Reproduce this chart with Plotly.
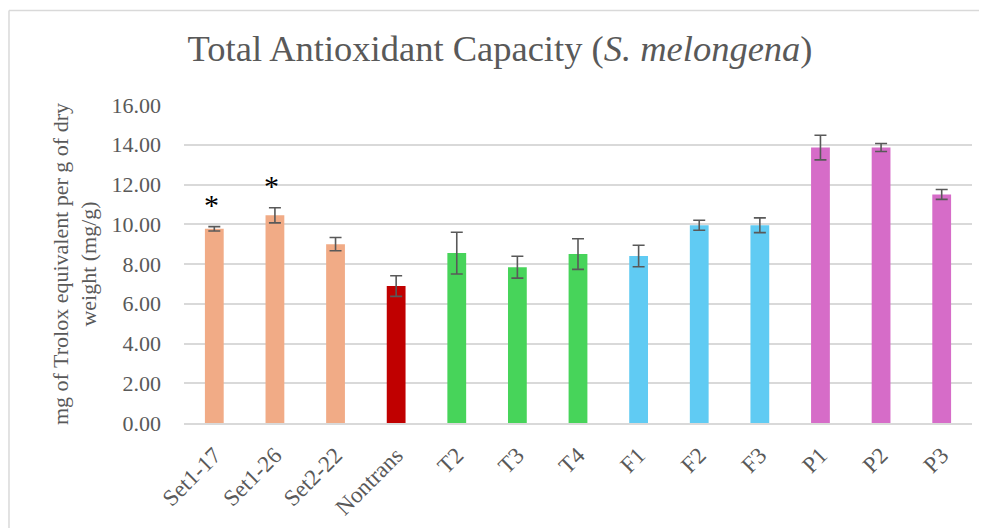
import plotly.graph_objects as go

categories = ["Set1-17", "Set1-26", "Set2-22", "Nontrans", "T2", "T3", "T4",
              "F1", "F2", "F3", "P1", "P2", "P3"]
values = [9.77, 10.45, 9.00, 6.89, 8.55, 7.84, 8.50, 8.40, 9.95, 9.95, 13.86, 13.86, 11.50]
errors = [0.11, 0.38, 0.33, 0.52, 1.05, 0.55, 0.77, 0.54, 0.25, 0.37, 0.62, 0.20, 0.25]
bar_colors = ["#F1AB86", "#F1AB86", "#F1AB86", "#C00000", "#47D45A", "#47D45A", "#47D45A",
              "#60CBF3", "#60CBF3", "#60CBF3", "#D66CC8", "#D66CC8", "#D66CC8"]
significant = ["Set1-17", "Set1-26"]
y_ticks = [0, 2, 4, 6, 8, 10, 12, 14, 16]

FONT = "Liberation Serif"
GRAY = "#595959"

fig = go.Figure()
fig.add_trace(go.Bar(
    x=categories, y=values,
    marker=dict(color=bar_colors, line=dict(width=0)),
    width=0.31,
    error_y=dict(type="data", array=errors, visible=True,
                 color=GRAY, thickness=1.6, width=6),
    showlegend=False,
))

for cat in significant:
    i = categories.index(cat)
    fig.add_annotation(x=cat, y=values[i] + errors[i], text="*",
                       showarrow=False, yanchor="bottom", xshift=-3, yshift=4,
                       font=dict(family=FONT, size=30, color="#000000"))

# chart-area border (top and left edges visible in the window)
fig.add_shape(type="line", xref="paper", yref="paper",
              x0=-0.2221, x1=1.3, y0=1.297, y1=1.297,
              line=dict(color="#d9d9d9", width=1.5), layer="below")
fig.add_shape(type="line", xref="paper", yref="paper",
              x0=-0.2221, x1=-0.2221, y0=-0.8, y1=1.297,
              line=dict(color="#d9d9d9", width=1.5), layer="below")

fig.update_layout(
    width=979, height=520,
    margin=dict(l=176, r=15, t=97, b=105, autoexpand=False),
    paper_bgcolor="white", plot_bgcolor="white",
    font=dict(family=FONT, color=GRAY, size=22),
    title=dict(text="Total Antioxidant Capacity (<i>S. melongena</i>)",
               xref="container", x=0.5026, xanchor="center",
               yref="container", y=0.923, yanchor="middle",
               font=dict(family=FONT, size=36.5, color=GRAY)),
    xaxis=dict(tickangle=-45, showgrid=False, showline=True, linecolor="#d9d9d9",
               linewidth=1.5, tickfont=dict(family=FONT, size=23, color=GRAY),
               ticks="", zeroline=False, ticklabelstandoff=8, automargin=False),
    yaxis=dict(range=[0, 16], tickvals=y_ticks, tickformat=".2f",
               showgrid=True, gridcolor="#d9d9d9", gridwidth=1.5,
               zeroline=False, showline=False, ticks="", automargin=False,
               ticklabelstandoff=22,
               tickfont=dict(family=FONT, size=22, color=GRAY),
               title=dict(text="mg of Trolox equivalent per g of dry<br>weight (mg/g)",
                          font=dict(family=FONT, size=22, color=GRAY),
                          standoff=8)),
)

fig.write_html("out.html")
